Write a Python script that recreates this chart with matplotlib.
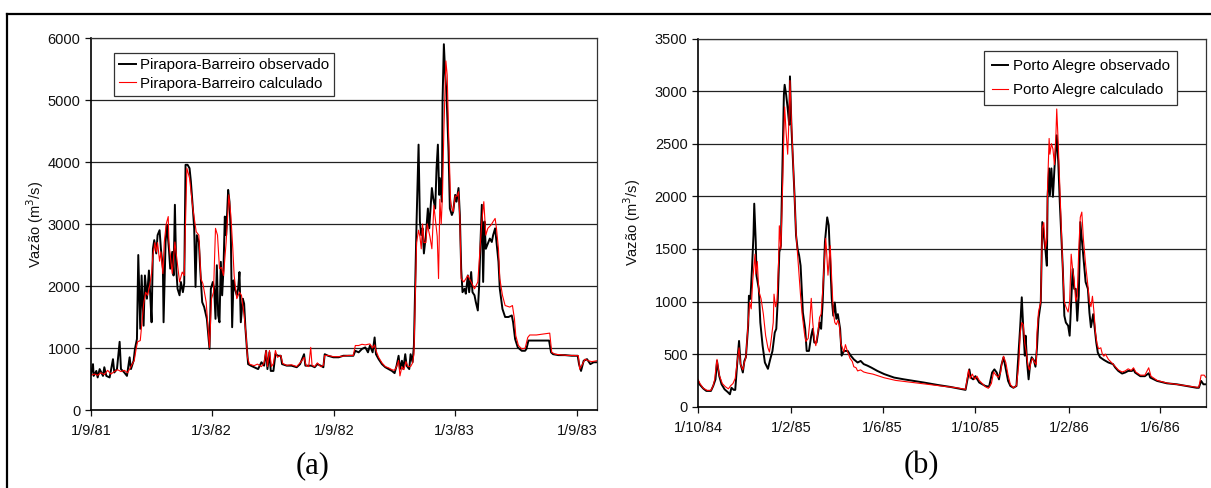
import numpy as np
import matplotlib
matplotlib.use("Agg")
import matplotlib.pyplot as plt
from matplotlib.lines import Line2D

plt.rcParams['font.family'] = ['Liberation Sans', 'DejaVu Sans']

# ---------------- Panel (a): Pirapora-Barreiro ----------------
a_start = np.datetime64('1981-09-01')
a_end = np.datetime64('1983-10-01')
a_obs_days = [0,3,4,8,10,13,18,20,23,28,33,35,39,43,45,50,54,58,60,64,66,69,71,74,76,79,81,84,87,89,91,93,95,98,100,103,105,108,109,112,114,117,119,122,124,126,128,130,133,135,138,140,142,145,148,150,153,155,157,159,162,164,167,170,174,178,180,183,185,187,189,191,193,195,197,199,201,203,206,208,210,212,214,216,219,221,223,225,228,230,232,234,236,240,245,251,256,260,263,265,268,270,274,277,281,285,287,294,301,309,314,317,320,322,326,331,336,340,345,349,351,356,364,372,379,387,394,397,402,407,412,416,419,423,426,428,432,437,442,447,452,456,459,462,464,467,469,472,474,478,480,483,485,487,489,492,494,496,498,500,503,506,508,512,514,517,519,521,523,524,527,528,530,532,534,537,539,542,544,547,549,552,554,556,558,561,563,566,568,571,573,576,578,581,583,585,587,589,591,593,596,599,602,604,607,609,612,614,618,622,627,632,634,637,641,647,652,654,657,662,672,682,688,691,694,702,712,722,731,733,736,740,745,750,755,760]
a_obs_q = [578,740,550,630,525,660,550,690,550,525,820,605,660,1100,660,605,550,850,660,795,985,1145,2500,1310,2170,1360,2170,1795,2250,1850,1415,2600,2740,2525,2820,2900,2600,2280,1415,2710,2985,2600,2280,2550,2170,3310,2280,1955,1850,2065,1900,2040,3955,3955,3900,3690,3250,2930,1985,2820,2710,2280,1740,1660,1470,985,1955,2065,1955,1470,2335,1525,1415,2390,1850,2280,3120,2820,3550,3360,2820,1335,2090,1955,1850,1955,2225,1415,1795,1715,1310,1010,740,715,690,660,770,715,955,660,930,630,630,900,875,875,740,715,715,690,740,820,900,715,715,715,690,740,715,690,900,875,850,850,875,875,875,955,930,985,1010,930,1040,930,1170,900,820,740,690,660,630,595,715,875,660,795,660,900,715,660,900,770,1040,2065,3040,4280,3040,2820,2930,2525,2820,3250,2930,3580,3415,3250,3900,4280,3470,3740,3360,4980,5900,5415,5090,4170,3250,3145,3200,3470,3360,3580,3145,2280,1900,1955,1875,2170,1900,2225,1900,1850,1740,1605,2010,2710,3310,2065,3040,2600,2685,2765,2710,2820,2930,2710,2390,1955,1630,1500,1500,1525,1415,1145,1010,955,955,985,1120,1120,1120,1120,1120,930,900,885,885,875,875,740,630,795,820,740,770,770]
a_calc_days = [0,5,10,15,20,25,30,35,40,45,50,55,60,65,68,70,74,76,79,82,85,88,91,93,96,98,100,103,105,108,110,113,116,117,120,122,126,133,137,140,144,148,153,158,162,165,168,173,178,181,184,187,190,193,196,199,203,207,210,213,215,219,223,226,230,233,235,238,245,250,256,260,263,265,268,271,274,277,280,285,288,294,301,309,314,317,320,323,327,330,332,336,340,345,349,351,356,364,372,379,387,394,397,402,407,412,416,419,423,426,428,432,437,442,447,452,456,459,462,464,467,470,473,476,480,483,485,487,489,492,494,496,498,500,503,505,509,512,515,518,520,522,524,526,528,530,533,535,537,540,542,544,547,550,552,554,556,560,566,571,576,581,584,587,590,593,596,601,604,607,609,612,614,618,622,629,633,636,638,642,647,652,656,659,669,679,689,692,697,705,715,725,732,734,737,742,747,752,760]
a_calc_q = [560,580,560,600,570,640,580,620,650,620,640,600,700,800,1000,1100,1120,1350,1700,1900,1850,2000,2200,2500,2700,2550,2700,2400,2550,2200,2700,3000,3120,2700,2400,2200,2710,2065,2225,2170,3900,3740,3250,2875,2820,2120,2040,1740,1010,1795,1900,2930,2820,2280,2300,2170,2710,3470,3145,2600,2170,1795,1900,1850,1525,1200,850,740,715,740,700,760,960,700,960,700,750,960,850,880,750,720,730,700,760,800,850,720,700,1010,720,700,760,700,720,880,880,860,860,870,880,880,1040,1040,1060,1050,1060,1065,1000,1050,960,850,760,700,680,650,640,700,800,550,700,650,780,700,700,760,900,1800,2700,2900,2800,2600,3000,2700,2700,3000,2800,2600,3300,3000,2800,2120,3400,3000,3500,4500,5630,5400,4500,3400,3250,3200,3450,3450,3520,3100,2120,2065,2170,2065,1955,2065,2550,3040,3360,2820,2930,2985,3040,3090,2930,2600,2120,1850,1685,1660,1685,1470,1200,1040,985,995,1170,1210,1210,1225,1240,930,900,890,880,880,875,660,715,820,795,780,795]
a_ticks = ['1981-09-01', '1982-03-01', '1982-09-01', '1983-03-01', '1983-09-01']
a_ticklabels = ['1/9/81', '1/3/82', '1/9/82', '1/3/83', '1/9/83']
a_labels = ['Pirapora-Barreiro observado', 'Pirapora-Barreiro calculado']

# ---------------- Panel (b): Porto Alegre ----------------
b_start = np.datetime64('1984-10-01')
b_end = np.datetime64('1986-07-31')
b_obs_days = [0,2,7,11,17,20,23,25,28,31,35,39,42,44,47,49,52,54,56,59,61,63,66,67,69,71,73,74,76,77,80,82,85,88,92,95,98,101,103,105,107,109,111,113,114,116,118,120,121,123,125,127,129,131,133,135,138,141,143,146,149,151,153,156,160,162,164,167,170,172,174,176,178,180,182,184,187,188,189,192,197,201,205,210,214,218,223,228,236,245,258,271,284,297,315,332,352,357,359,362,365,370,374,378,383,387,390,393,396,399,402,405,408,411,415,419,422,424,426,428,430,431,433,435,437,439,442,444,446,448,451,453,455,457,459,460,462,463,465,467,469,471,472,474,476,478,480,482,484,487,489,491,493,495,497,499,501,503,505,507,510,513,515,517,520,522,524,526,529,534,540,546,549,553,558,562,566,571,573,575,582,588,593,595,604,617,630,643,656,659,662,665,668]
b_obs_q = [245,213,172,150,150,197,260,435,290,213,165,140,118,180,160,160,450,625,405,325,435,470,770,1055,1025,1310,1630,1930,1565,1245,1120,800,580,420,360,450,530,705,740,1025,1470,1530,2265,2965,3060,2965,2835,2680,3140,2645,2330,2010,1630,1500,1440,1340,895,740,530,530,675,740,610,610,800,740,990,1565,1800,1725,1375,1025,865,990,835,880,740,610,485,530,530,485,450,420,435,405,390,372,340,310,277,260,245,230,207,188,160,355,277,260,290,230,213,197,190,325,355,325,260,390,470,355,245,197,180,197,545,770,1040,740,485,675,420,260,405,470,440,380,560,835,990,1755,1630,1500,1340,2010,2265,2010,2265,1995,2265,2485,2580,2330,1945,1630,1310,865,800,770,675,990,1310,1120,1120,817,1055,1755,1595,1440,1185,1120,895,755,880,740,610,515,470,445,420,405,372,340,315,325,340,340,355,325,290,290,318,277,245,222,213,197,180,180,245,213,213]
b_calc_days = [0,3,7,12,17,20,22,23,25,28,32,36,40,43,46,49,52,54,56,59,61,63,66,68,70,72,75,76,78,80,83,86,89,92,94,96,99,100,102,104,106,107,109,111,113,114,116,118,120,121,123,125,127,129,131,133,135,137,140,142,145,147,149,151,153,155,158,160,162,164,166,168,169,171,174,176,178,180,182,184,186,188,190,192,194,196,198,200,203,205,208,210,214,218,223,230,245,260,280,300,320,340,352,356,358,361,364,367,370,374,378,382,386,389,392,395,398,400,402,405,408,411,415,419,422,424,426,428,430,432,434,436,438,440,443,445,446,448,451,453,455,457,459,460,462,463,465,467,469,471,472,474,476,478,480,482,484,487,489,491,493,495,497,499,501,503,505,507,510,513,515,517,519,521,523,525,527,530,532,534,536,540,544,548,553,558,562,566,570,573,576,582,588,593,596,604,617,630,643,656,659,662,666,668]
b_calc_q = [260,215,175,155,155,200,260,330,450,300,220,190,170,200,220,270,450,560,400,350,420,470,800,990,930,1200,1450,1260,1380,1100,1025,880,675,560,520,620,800,1070,950,1000,1375,1720,1500,2000,2600,2850,2600,2400,2800,3100,2700,2350,2000,1650,1450,1245,1050,880,700,620,650,800,1030,800,650,580,720,850,880,1100,1350,1600,1500,1250,1530,1200,900,800,780,820,780,600,560,520,590,540,500,460,430,380,370,340,350,330,320,310,275,250,232,215,197,180,165,350,270,310,260,290,250,220,190,175,220,330,300,280,320,420,480,420,300,210,180,200,400,700,800,780,600,520,400,350,420,460,420,400,700,900,1000,1700,1750,1500,1600,2100,2550,2400,2500,2450,2300,2600,2830,2500,2100,1700,1300,1000,950,900,1000,1450,1300,1200,1000,1050,1500,1800,1850,1600,1350,1150,1000,950,1050,900,700,600,550,560,500,480,500,450,420,390,350,330,340,360,345,370,330,300,300,370,290,250,225,212,200,185,185,300,300,280]
b_ticks = ['1984-10-01', '1985-02-01', '1985-06-01', '1985-10-01', '1986-02-01', '1986-06-01']
b_ticklabels = ['1/10/84', '1/2/85', '1/6/85', '1/10/85', '1/2/86', '1/6/86']
b_labels = ['Porto Alegre observado', 'Porto Alegre calculado']

ylabel = 'Vazão (m$^3$/s)'


def to_dates(start, days):
    return start + np.array(days).astype('timedelta64[D]')


fig = plt.figure(figsize=(12.11, 4.88), dpi=100)
ax1 = fig.add_axes([91/1211, 1-410/488, (597-91)/1211, (410-38)/488])
ax2 = fig.add_axes([698/1211, 1-406.7/488, (1205.7-698)/1211, (406.7-38.5)/488])


def style(ax, start, end, ymax, ystep, ticks, ticklabels):
    ax.set_xlim(start, end)
    ax.set_ylim(0, ymax)
    ax.set_yticks(np.arange(0, ymax + 1, ystep))
    ax.set_xticks([np.datetime64(t) for t in ticks])
    ax.set_xticklabels(ticklabels)
    ax.yaxis.grid(True, color='#222222', lw=0.9)
    ax.set_axisbelow(True)
    for s in ax.spines.values():
        s.set_color('#333333')
        s.set_linewidth(0.9)
    ax.spines['left'].set_color('black')
    ax.spines['bottom'].set_color('black')
    ax.spines['left'].set_linewidth(1.2)
    ax.spines['bottom'].set_linewidth(1.2)
    ax.tick_params(axis='both', direction='out', length=4, width=0.9, labelsize=10.5, colors='#111111')
    ax.tick_params(axis='x', pad=6)
    ax.set_ylabel(ylabel, fontsize=10.5, color='#111111')


# Panel (a)
ax1.plot(to_dates(a_start, a_obs_days), a_obs_q, color='black', lw=1.4, label=a_labels[0])
ax1.plot(to_dates(a_start, a_calc_days), a_calc_q, color='#ff0000', lw=0.8, label=a_labels[1])
style(ax1, a_start, a_end, 6000, 1000, a_ticks, a_ticklabels)
ax1.yaxis.set_label_coords(-0.088, 0.5)
leg1 = ax1.legend(loc='upper left', bbox_to_anchor=(0.045, 0.96), fontsize=10.8, frameon=True,
                  fancybox=False, edgecolor='#333333', framealpha=1, handlelength=1.1,
                  handletextpad=0.3, labelspacing=0.3, borderpad=0.35, borderaxespad=0)
leg1.get_frame().set_linewidth(0.9)

# Panel (b)
ax2.plot(to_dates(b_start, b_obs_days), b_obs_q, color='black', lw=1.4, label=b_labels[0])
ax2.plot(to_dates(b_start, b_calc_days), b_calc_q, color='#ff0000', lw=0.8, label=b_labels[1])
style(ax2, b_start, b_end, 3500, 500, b_ticks, b_ticklabels)
ax2.yaxis.set_label_coords(-0.108, 0.5)
leg2 = ax2.legend(loc='upper right', bbox_to_anchor=(0.944, 0.965), fontsize=10.8, frameon=True,
                  fancybox=False, edgecolor='#333333', framealpha=1, handlelength=1.1,
                  handletextpad=0.3, labelspacing=0.7, borderpad=0.5, borderaxespad=0)
leg2.get_frame().set_linewidth(0.9)

# Panel captions
fig.text(313/1211, 1-466/488, '(a)', ha='center', va='center', fontsize=22, family='Liberation Serif')
fig.text(921/1211, 1-466/488, '(b)', ha='center', va='center', fontsize=22, family='Liberation Serif')

# Outer frame (top and left edges)
fig.add_artist(Line2D([7/1211, 1], [1-14/488, 1-14/488], transform=fig.transFigure, color='black', lw=1.6))
fig.add_artist(Line2D([7/1211, 7/1211], [0, 1-14/488], transform=fig.transFigure, color='black', lw=1.6))

fig.savefig('out.png', dpi=100)
